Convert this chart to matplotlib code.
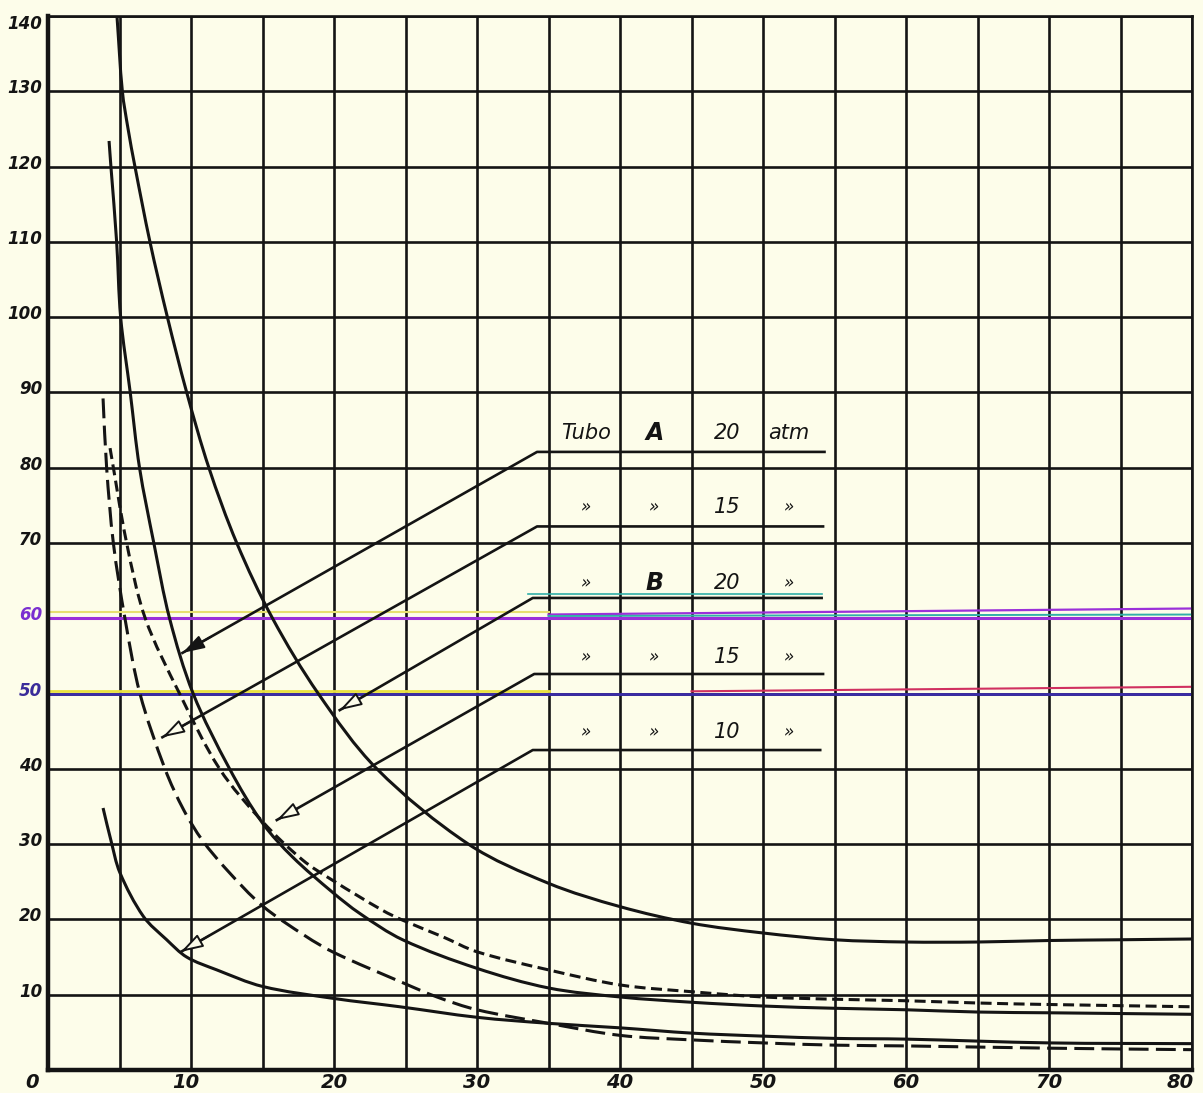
import matplotlib
matplotlib.use("Agg")
import matplotlib.pyplot as plt
import matplotlib.transforms as mtrans
from matplotlib.path import Path
from matplotlib.patches import PathPatch
import numpy as np

# ---------------- data ----------------
# solid curve pointed to by "Tubo B 20 atm"
c1_x = [4.83, 5.2, 5.6, 6.08, 7.13, 8.35, 9.7, 11.25, 13.2, 15.7, 18.9, 23.0, 29.4, 35, 40, 45, 50, 55, 60, 65, 70, 75, 80]
c1_y = [139.8, 130, 125, 120, 110, 100, 90, 80, 70, 60, 50, 40, 30, 24.8, 21.7, 19.5, 18.2, 17.3, 17.0, 17.0, 17.2, 17.3, 17.4]
# solid curve pointed to by "Tubo A 20 atm"
c2_x = [4.27, 4.4, 4.8, 5.08, 5.75, 6.4, 7.4, 8.5, 10.15, 12.7, 15.0, 17.1, 19.9, 21.8, 24.8, 30, 35, 40, 45, 50, 55, 60, 65, 70, 80]
c2_y = [123.4, 120, 110, 100, 90, 80, 70, 60, 50, 40, 32.8, 28.3, 23.6, 20.8, 17.3, 13.5, 10.9, 9.7, 9.0, 8.5, 8.2, 8.0, 7.7, 7.6, 7.4]
# long dashed curve ("Tubo A 15 atm")
c3_x = [3.85, 4.1, 4.57, 5.38, 6.43, 8.18, 9.5, 10.8, 12.5, 15.0, 18.0, 20.0, 24.8, 27.2, 30, 35, 40, 45, 50, 55, 60, 70, 80]
c3_y = [89.2, 80, 70, 60, 50, 40, 34.5, 30.5, 26.6, 21.8, 17.8, 15.6, 11.6, 9.7, 8.0, 6.2, 4.6, 4.0, 3.6, 3.3, 3.2, 2.9, 2.7]
# short dashed curve
c4_x = [4.34, 5.5, 6.8, 9.2, 12.0, 15.0, 17.8, 19.9, 23.4, 24.8, 27.6, 30, 35, 40, 45, 50, 55, 60, 65, 70, 80]
c4_y = [82.6, 70, 60, 50, 40, 33.0, 27.9, 25.2, 21.2, 19.9, 17.7, 15.7, 13.3, 11.3, 10.4, 9.7, 9.4, 9.2, 8.9, 8.7, 8.4]
# bottom solid curve ("Tubo B 10 atm")
c5_x = [3.85, 4.4, 5.03, 6.67, 8.3, 9.7, 11.8, 15, 20, 24.6, 30, 35, 40, 45, 50, 55, 60, 70, 80]
c5_y = [34.8, 30.5, 26.2, 20.4, 17.3, 15.0, 13.3, 11.1, 9.5, 8.4, 7.0, 6.2, 5.6, 4.9, 4.5, 4.2, 4.1, 3.6, 3.5]

# leader lines: arrow tip on the curve, elbow, end of the horizontal
lead_x0 = [9.4, 8.0, 20.4, 16.0, 9.3]
lead_y0 = [55.4, 44.2, 47.8, 33.2, 15.7]
lead_lvl = [82.1, 72.2, 62.7, 52.6, 42.5]
lead_elbow = [34.2, 34.2, 33.9, 34.0, 33.9]
lead_end = [54.3, 54.2, 54.1, 54.2, 54.0]
lead_filled = [True, False, False, False, False]

# legend table text
col1 = ["Tubo", "»", "»", "»", "»"]
col2 = ["A", "»", "B", "»", "»"]
col3 = ["20", "15", "20", "15", "10"]
col4 = ["atm", "»", "»", "»", "»"]
row_y = [84.6, 74.8, 64.7, 54.8, 44.9]
col_x = [37.6, 42.4, 47.5, 51.8]

x_major = [0, 10, 20, 30, 40, 50, 60, 70, 80]
x_labels = ["0", "10", "20", "30", "40", "50", "60", "70", "80"]
y_major = [0, 10, 20, 30, 40, 50, 60, 70, 80, 90, 100, 110, 120, 130, 140]
y_labels = ["", "10", "20", "30", "40", "50", "60", "70", "80", "90", "100", "110", "120", "130", "140"]

# ---------------- figure ----------------
BG = "#fdfdea"
INK = "#141414"
fig = plt.figure(figsize=(12.03, 10.93), dpi=100, facecolor=BG)
ax = fig.add_axes([48 / 1203, 23 / 1093, (1192 - 48) / 1203, (1070 - 16) / 1093])
ax.set_facecolor(BG)
ax.set_xlim(0, 80)
ax.set_ylim(0, 140)

ax.set_xticks(x_major)
ax.set_xticks(np.arange(0, 81, 5), minor=True)
ax.set_yticks(y_major)
ax.set_xticklabels(x_labels, fontsize=14, fontstyle="italic", fontweight="bold", color=INK)
ax.set_yticklabels(y_labels, fontsize=12, fontstyle="italic", fontweight="bold", color=INK)
ax.tick_params(which="both", length=0)
ax.tick_params(axis="x", pad=2)
ax.tick_params(axis="y", pad=4)
ax.grid(which="both", color=INK, lw=1.9)
ax.set_axisbelow(True)
for s in ["left", "bottom"]:
    ax.spines[s].set_linewidth(3.2)
for s in ["top", "right"]:
    ax.spines[s].set_linewidth(1.9)
for s in ax.spines.values():
    s.set_color(INK)

# tick label offsets
for lab, v in zip(ax.get_yticklabels(), y_major):
    dy = -6 if v == 140 else 5
    lab.set_transform(lab.get_transform() + mtrans.ScaledTranslation(0, dy / 100, fig.dpi_scale_trans))
    if v == 60:
        lab.set_color("#7a2fd0")
    if v == 50:
        lab.set_color("#3a2c9a")
for lab, v in zip(ax.get_xticklabels(), x_major):
    dx = 0
    if v == 0:
        dx = -16
    elif v == 80:
        dx = -12
    elif v == 10:
        dx = -5
    if dx:
        lab.set_transform(lab.get_transform() + mtrans.ScaledTranslation(dx / 100, 0, fig.dpi_scale_trans))

# scan colour artefacts on the 60 and 50 grid lines
ax.axhline(60, color="#9b30d9", lw=2.2, zorder=1.5)
ax.plot([0, 35], [60.8, 60.8], color="#e6e070", lw=1.5, zorder=1.4)
ax.plot([35, 80], [60.5, 61.3], color="#9b30d9", lw=1.6, zorder=1.4)
ax.plot([35, 80], [60.3, 60.5], color="#30b0a8", lw=1.4, zorder=1.4)
ax.axhline(50, color="#3a2ca8", lw=2.0, zorder=1.5)
ax.plot([0, 35], [50.35, 50.35], color="#e8e040", lw=2.0, zorder=1.4)
ax.plot([45, 80], [50.3, 50.9], color="#d03060", lw=1.5, zorder=1.4)


def smooth_curve(xs, ys):
    """Smooth cubic Bezier path through the read points (computed in display space)."""
    P = ax.transData.transform(np.column_stack([xs, ys]))
    n = len(P)
    d = np.linalg.norm(np.diff(P, axis=0), axis=1)
    m = np.zeros_like(P)
    m[0] = (P[1] - P[0]) / d[0]
    m[-1] = (P[-1] - P[-2]) / d[-1]
    for i in range(1, n - 1):
        m[i] = (P[i + 1] - P[i - 1]) / (d[i] + d[i - 1])
    verts = [P[0]]
    codes = [Path.MOVETO]
    for i in range(n - 1):
        verts += [P[i] + m[i] * d[i] / 3, P[i + 1] - m[i + 1] * d[i] / 3, P[i + 1]]
        codes += [Path.CURVE4] * 3
    vd = ax.transData.inverted().transform(np.array(verts))
    return Path(vd, codes)


def draw_curve(xs, ys, dashes=None):
    ls = "-" if dashes is None else (0, dashes)
    ax.add_patch(PathPatch(smooth_curve(xs, ys), fill=False, edgecolor=INK, lw=2.2,
                           linestyle=ls, capstyle="butt", joinstyle="round", zorder=3))


draw_curve(c1_x, c1_y)
draw_curve(c2_x, c2_y)
draw_curve(c3_x, c3_y, dashes=(6.5, 2.4))
draw_curve(c4_x, c4_y, dashes=(3.6, 1.8))
draw_curve(c5_x, c5_y)

# leader lines with arrows
for x0, y0, lv, xe, xend, filled in zip(lead_x0, lead_y0, lead_lvl, lead_elbow, lead_end, lead_filled):
    ax.plot([x0, xe, xend], [y0, lv, lv], color=INK, lw=1.9, zorder=3, solid_joinstyle="round")
    t = 0.08
    xt = x0 + (xe - x0) * t
    yt = y0 + (lv - y0) * t
    ax.annotate("", xy=(x0, y0), xytext=(xt, yt),
                arrowprops=dict(arrowstyle="-|>,head_length=0.9,head_width=0.28",
                                color=INK, lw=1.4,
                                fc=INK if filled else BG,
                                shrinkA=0, shrinkB=0, mutation_scale=15),
                zorder=4)

# cyan echo of the B-20 leader (scan artefact)
ax.plot([lead_elbow[2] - 0.3, lead_end[2]], [lead_lvl[2] + 0.5, lead_lvl[2] + 0.5], color="#30b0a8", lw=1.2, zorder=2.9)

# legend table text
tkw = dict(ha="center", va="center", color=INK, fontstyle="italic", zorder=5)
for i, y in enumerate(row_y):
    big = 15 if i == 0 else 12
    ax.text(col_x[0], y, col1[i], fontsize=big, **tkw)
    is_letter = col2[i] != "»"
    ax.text(col_x[1], y, col2[i], fontsize=17 if is_letter else 12,
            fontweight="bold" if is_letter else "normal", **tkw)
    ax.text(col_x[2], y, col3[i], fontsize=15, **tkw)
    ax.text(col_x[3], y, col4[i], fontsize=big, **tkw)

fig.savefig("out.png", dpi=100, facecolor=BG)
